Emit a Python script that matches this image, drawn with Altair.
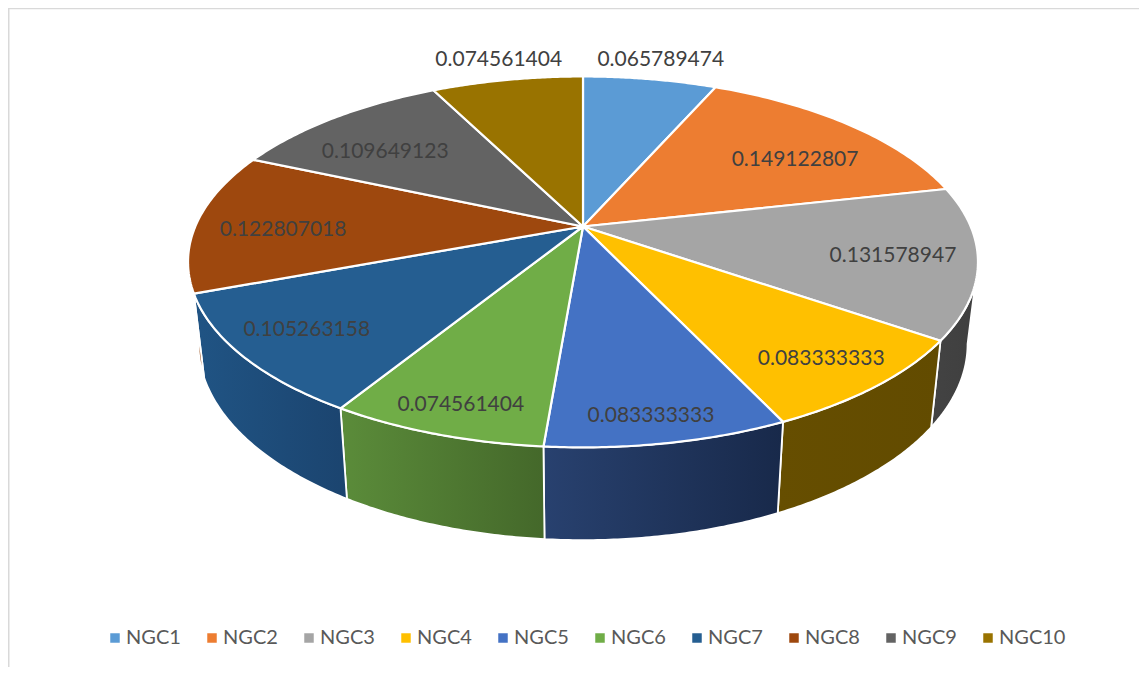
import math
import altair as alt

names = ["NGC1", "NGC2", "NGC3", "NGC4", "NGC5", "NGC6", "NGC7", "NGC8", "NGC9", "NGC10"]
values = [0.065789474, 0.149122807, 0.131578947, 0.083333333, 0.083333333,
          0.074561404, 0.105263158, 0.122807018, 0.109649123, 0.074561404]
top_colors = ["#5B9BD5", "#ED7D31", "#A5A5A5", "#FFC000", "#4472C4",
              "#70AD47", "#255E91", "#9E480E", "#636363", "#997300"]
# left / right shade of the visible side walls
wall_shades = {
    "NGC3": ("#434343", "#3f3f3f"),
    "NGC4": ("#664e00", "#624b00"),
    "NGC5": ("#28416f", "#18294a"),
    "NGC6": ("#5b8c3a", "#44682a"),
    "NGC7": ("#205484", "#1b446f"),
    "NGC8": ("#9a460d", "#8f410c"),
}
# label placement, in pie terms: radius fraction and angular shift from the slice's middle
label_radius = [1.172, 0.718, 0.791, 0.839, 0.888, 0.874, 0.823, 0.772, 0.723, 1.176]
label_shift = [0.2, 4.7, 0.1, 0.3, 0.8, -0.5, 0.8, -2.4, -3.6, 0.4]

# perspective of the tilted disc
K = 0.191
CX = 583
TOP = (387.7, 178.7, 226.5)
BOTTOM = (377.5, 189.0, 306.5)


def project(theta_deg, surface, rho=1.0):
    t = math.radians(theta_deg)
    a, b, cy = surface
    u, v = rho * math.sin(t), rho * math.cos(t)
    w = 1 + K * v
    return CX + a * u / w, cy - b * v / w


def arc(t0, t1, surface, n=60):
    return [project(t0 + (t1 - t0) * i / n, surface) for i in range(n + 1)]


def geo(ring):
    ring = [[x, -y] for x, y in ring]
    ring.append(ring[0])
    return {"type": "Polygon", "coordinates": [ring]}


total = sum(values)
bounds = [0.0]
for val in values:
    bounds.append(bounds[-1] + val / total * 360)

# silhouette angles of the disc: the wall is visible only between them
sil0 = math.degrees(math.acos(-K))
sil1 = 360 - sil0

PROJ = dict(type="identity", reflectY=True, scale=1, translate=[-8, -8])

layers = []
for i, name in enumerate(names):
    if name not in wall_shades:
        continue
    t0, t1 = max(bounds[i], sil0), min(bounds[i + 1], sil1)
    ring = arc(t0, t1, TOP) + arc(t0, t1, BOTTOM)[::-1]
    feat = {"type": "Feature", "geometry": geo(ring), "properties": {"name": name}}
    left, right = wall_shades[name]
    layers.append(
        alt.Chart(alt.Data(values=[feat]))
        .mark_geoshape(
            fill=alt.Gradient(
                gradient="linear", x1=0, x2=1, y1=0, y2=0,
                stops=[alt.GradientStop(color=left, offset=0),
                       alt.GradientStop(color=right, offset=1)],
            ),
            stroke="white", strokeWidth=1.8,
        )
        .project(**PROJ)
    )

top_features = []
for i, name in enumerate(names):
    ring = [(CX, TOP[2])] + arc(bounds[i], bounds[i + 1], TOP)
    top_features.append({"type": "Feature", "geometry": geo(ring), "properties": {"name": name}})

layers.append(
    alt.Chart(alt.Data(values=top_features))
    .mark_geoshape(stroke="white", strokeWidth=2.2, strokeJoin="round")
    .encode(
        color=alt.Color(
            "properties.name:N",
            sort=names,
            scale=alt.Scale(domain=names, range=top_colors),
            legend=alt.Legend(
                orient="none", legendX=97, legendY=620, direction="horizontal",
                columns=10, title=None, symbolType="square", symbolSize=90,
                symbolStrokeWidth=0, labelFont="Lato", labelFontSize=20,
                labelColor="#595959", labelOffset=1, columnPadding=21, padding=0,
                labelLimit=200, symbolOpacity=1,
            ),
        )
    )
    .project(**PROJ)
)

label_rows = []
for i, val in enumerate(values):
    mid = (bounds[i] + bounds[i + 1]) / 2 + label_shift[i]
    x, y = project(mid, TOP, label_radius[i])
    label_rows.append({"lon": x, "lat": -y, "text": f"{val:.9f}"})

layers.append(
    alt.Chart(alt.Data(values=label_rows))
    .mark_text(font="Lato", fontSize=21, color="#404040", align="center", baseline="middle", dy=1.5)
    .encode(longitude="lon:Q", latitude="lat:Q", text="text:N")
    .project(**PROJ)
)

frame_left = alt.Chart(alt.Data(values=[{"a": 0}])).mark_rule(color="#d9d9d9", strokeWidth=2).encode(
    x=alt.value(0.5), y=alt.value(0), y2=alt.value(659))
frame_top = alt.Chart(alt.Data(values=[{"a": 0}])).mark_rule(color="#d9d9d9", strokeWidth=1.5).encode(
    y=alt.value(0.5), x=alt.value(0), x2=alt.value(1131))

chart = (
    alt.layer(frame_left, frame_top, *layers)
    .properties(width=1131, height=659, padding=0, autosize=alt.AutoSizeParams(type="none"),
                background="white")
    .configure_view(stroke=None)
)

chart.save("out.html", embed_options={"renderer": "svg", "actions": False})
